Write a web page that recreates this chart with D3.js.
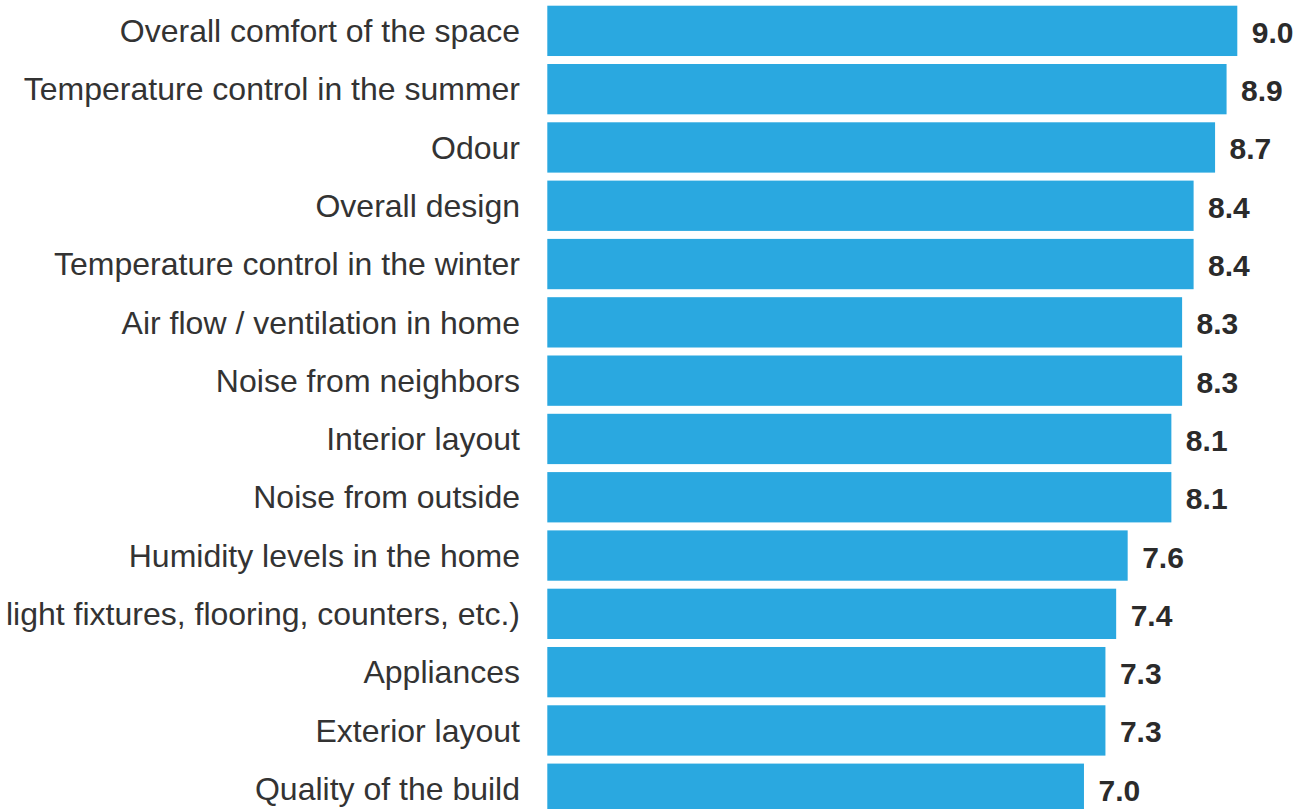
<!DOCTYPE html>
<html>
<head>
<meta charset="utf-8">
<script src="https://cdn.jsdelivr.net/npm/d3@7"></script>
<style>
  html, body { margin: 0; padding: 0; background: #ffffff; overflow: hidden; }
  svg { display: block; }
</style>
</head>
<body>
<svg id="chart" width="1302" height="809"></svg>
<script>
const categories = [
  "Overall comfort of the space",
  "Temperature control in the summer",
  "Odour",
  "Overall design",
  "Temperature control in the winter",
  "Air flow / ventilation in home",
  "Noise from neighbors",
  "Interior layout",
  "Noise from outside",
  "Humidity levels in the home",
  "light fixtures, flooring, counters, etc.)",
  "Appliances",
  "Exterior layout",
  "Quality of the build"
];
const values = [9.00, 8.86, 8.71, 8.43, 8.43, 8.28, 8.28, 8.14, 8.14, 7.57, 7.42, 7.28, 7.28, 7.00];

const svg = d3.select("#chart");
const x0 = 547.3;
const x = d3.scaleLinear().domain([0, 9]).range([x0, 1237.3]);
const y = d3.scaleBand().domain(categories).range([5.7, 813.9]).paddingInner(0.137).paddingOuter(0);

const data = categories.map((c, i) => ({ c, v: values[i] }));

svg.append("g").selectAll("rect").data(data).join("rect")
  .attr("x", x(0))
  .attr("y", d => y(d.c))
  .attr("width", d => x(d.v) - x(0))
  .attr("height", y.bandwidth())
  .attr("fill", "#2AA8E0");

svg.append("g").selectAll("text").data(data).join("text")
  .attr("x", 520)
  .attr("y", d => y(d.c) + y.bandwidth() / 2)
  .attr("dy", "0.35em")
  .attr("text-anchor", "end")
  .attr("font-family", "'Liberation Sans', Arial, sans-serif")
  .attr("font-size", 32)
  .attr("fill", "#333333")
  .text(d => d.c);

const fmt = d3.format(".1f");
svg.append("g").selectAll("text").data(data).join("text")
  .attr("x", d => x(d.v) + 14.5)
  .attr("y", d => y(d.c) + y.bandwidth() / 2 + 1.5)
  .attr("dy", "0.35em")
  .attr("text-anchor", "start")
  .attr("font-family", "'Liberation Sans', Arial, sans-serif")
  .attr("font-size", 30)
  .attr("font-weight", "bold")
  .attr("fill", "#2b2b2b")
  .text(d => fmt(d.v));
</script>
</body>
</html>
